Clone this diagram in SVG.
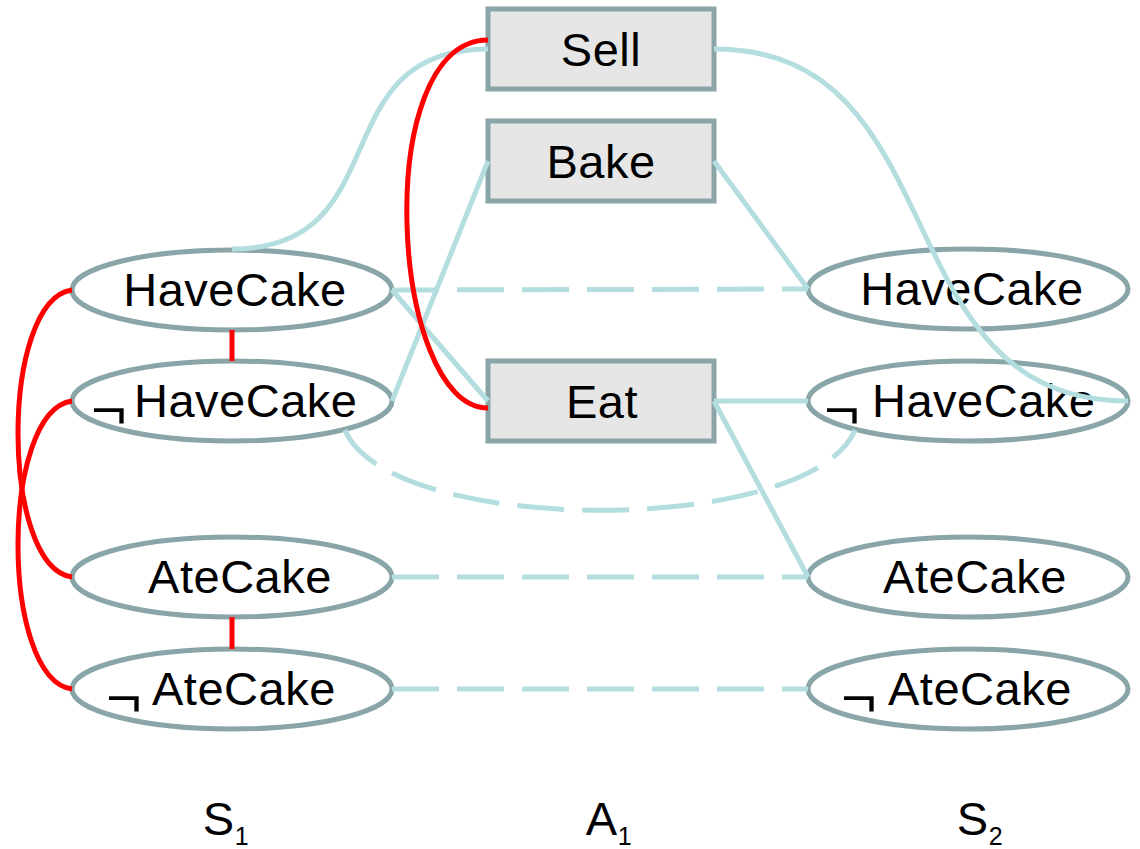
<svg xmlns="http://www.w3.org/2000/svg" width="1140" height="849" viewBox="0 0 1140 849">
  <style>
    .state { fill: #ffffff; stroke: #8aa5a8; stroke-width: 5; }
    .action { fill: #e6e6e6; stroke: #8aa5a8; stroke-width: 5; }
    .lbl { font-family: "Liberation Sans", Arial, sans-serif; font-size: 47px; letter-spacing: 0.5px; fill: #000000; text-anchor: middle; }
    .word { font-family: "Liberation Sans", Arial, sans-serif; font-size: 47px; letter-spacing: 0.5px; fill: #000000; text-anchor: start; }
    .not { font-family: "Liberation Sans", Arial, sans-serif; font-size: 47px; fill: #000000; text-anchor: start; }
    .sub { font-size: 25px; }
    .link { fill: none; stroke: #b4dde0; stroke-width: 5; }
    .persist { fill: none; stroke: #b4dde0; stroke-width: 5; stroke-dasharray: 47 18; }
    .mutex { fill: none; stroke: #ff0000; stroke-width: 5; }
  </style>

  <!-- state level S1 -->
  <g id="s1-havecake"><ellipse class="state" cx="232" cy="290" rx="160" ry="40"/><text class="lbl" x="235" y="306">HaveCake</text></g>
  <g id="s1-not-havecake"><ellipse class="state" cx="232" cy="401" rx="160" ry="40"/>
    <text class="not" transform="translate(91,428) scale(1.3,1.15)">¬</text><text class="word" x="134" y="417">HaveCake</text></g>
  <g id="s1-atecake"><ellipse class="state" cx="232" cy="577" rx="160" ry="40"/><text class="lbl" x="240" y="593">AteCake</text></g>
  <g id="s1-not-atecake"><ellipse class="state" cx="232" cy="689" rx="160" ry="40"/>
    <text class="not" transform="translate(106,716) scale(1.3,1.15)">¬</text><text class="word" x="152" y="705">AteCake</text></g>

  <!-- action level A1 -->
  <g id="a1-sell"><rect class="action" x="488" y="9" width="226" height="80"/><text class="lbl" x="601" y="66">Sell</text></g>
  <g id="a1-bake"><rect class="action" x="488" y="121" width="226" height="80"/><text class="lbl" x="601" y="178">Bake</text></g>
  <g id="a1-eat"><rect class="action" x="488" y="361" width="226" height="80"/><text class="lbl" x="602" y="418">Eat</text></g>

  <!-- state level S2 -->
  <g id="s2-havecake"><ellipse class="state" cx="968" cy="289" rx="160" ry="40"/><text class="lbl" x="972" y="305">HaveCake</text></g>
  <g id="s2-not-havecake"><ellipse class="state" cx="968" cy="401" rx="160" ry="40"/>
    <text class="not" transform="translate(824,428) scale(1.3,1.15)">¬</text><text class="word" x="872" y="417">HaveCake</text></g>
  <g id="s2-atecake"><ellipse class="state" cx="968" cy="577" rx="160" ry="40"/><text class="lbl" x="975" y="593">AteCake</text></g>
  <g id="s2-not-atecake"><ellipse class="state" cx="968" cy="689" rx="160" ry="40"/>
    <text class="not" transform="translate(841,716) scale(1.3,1.15)">¬</text><text class="word" x="888" y="705">AteCake</text></g>

  <!-- level captions -->
  <g id="captions">
    <text class="lbl" x="226" y="835">S<tspan class="sub" dy="10">1</tspan></text>
    <text class="lbl" x="609" y="835">A<tspan class="sub" dy="10">1</tspan></text>
    <text class="lbl" x="980" y="835">S<tspan class="sub" dy="10">2</tspan></text>
  </g>

  <g id="connectors">
    <!-- preconditions and effects -->
    <path class="link" d="M232,249 C400,249 320,49 488,49"/>
    <path class="link" d="M714,49 C960,49 880,401 1128,401"/>
    <path class="link" d="M488,161 L392,401"/>
    <path class="link" d="M392,290 L488,401"/>
    <path class="link" d="M714,161 L808,289"/>
    <path class="link" d="M714,401 L808,401"/>
    <path class="link" d="M714,401 L808,577"/>
    <!-- persistence (no-op) links -->
    <path class="persist" d="M392,290 L808,289"/>
    <path class="persist" d="M392,577 L808,577"/>
    <path class="persist" d="M392,689 L808,689"/>
    <path class="persist" d="M345,430 C390,537 810,537 855,430"/>
    <!-- mutual exclusion -->
    <path class="mutex" d="M488,40 C370,40 390,408 488,408"/>
    <path class="mutex" d="M72,290 C0,300 0,567 72,577"/>
    <path class="mutex" d="M72,401 C0,411 0,679 72,689"/>
    <path class="mutex" d="M232,330 L232,361"/>
    <path class="mutex" d="M232,617 L232,649"/>
  </g>
</svg>
